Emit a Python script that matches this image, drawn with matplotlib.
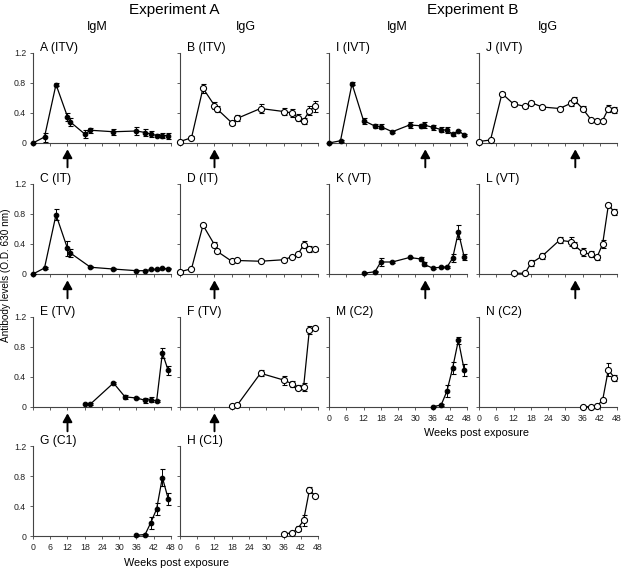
import numpy as np
import matplotlib
matplotlib.use("Agg")
import matplotlib.pyplot as plt

plt.rcParams['font.family'] = ['Liberation Sans', 'DejaVu Sans']

# sampling weeks
weeks_a = [0, 4, 8, 12, 13, 18, 20, 28, 36, 39, 41, 43, 45, 47]
weeks_b = [0, 4, 8, 12, 16, 18, 22, 28, 32, 33, 36, 39, 41, 43, 45, 47]

# Experiment A
a_x = weeks_a
a_y = [0.0, 0.08, 0.78, 0.35, 0.28, 0.12, 0.17, 0.15, 0.16, 0.14, 0.12, 0.10, 0.10, 0.10]
a_e = [0.0, 0.06, 0.02, 0.05, 0.05, 0.05, 0.03, 0.04, 0.05, 0.05, 0.04, 0.02, 0.03, 0.04]

b_x = weeks_a
b_y = [0.02, 0.07, 0.73, 0.50, 0.45, 0.27, 0.33, 0.46, 0.42, 0.40, 0.34, 0.30, 0.43, 0.49]
b_e = [0.01, 0.02, 0.06, 0.05, 0.04, 0.03, 0.04, 0.06, 0.05, 0.05, 0.05, 0.04, 0.06, 0.07]

c_x = [0, 4, 8, 12, 13, 20, 28, 36, 39, 41, 43, 45, 47]
c_y = [0.0, 0.08, 0.79, 0.34, 0.28, 0.09, 0.066, 0.044, 0.044, 0.06, 0.066, 0.075, 0.07]
c_e = [0.0, 0.01, 0.07, 0.10, 0.05, 0.01, 0.01, 0.01, 0.01, 0.01, 0.01, 0.01, 0.01]

d_x = weeks_a
d_y = [0.03, 0.07, 0.65, 0.39, 0.30, 0.17, 0.18, 0.17, 0.19, 0.23, 0.26, 0.39, 0.33, 0.33]
d_e = [0.01, 0.01, 0.02, 0.03, 0.01, 0.01, 0.01, 0.01, 0.01, 0.01, 0.01, 0.05, 0.04, 0.02]

e_x = [18, 20, 28, 32, 36, 39, 41, 43, 45, 47]
e_y = [0.045, 0.04, 0.32, 0.135, 0.12, 0.09, 0.10, 0.08, 0.72, 0.49]
e_e = [0.01, 0.01, 0.01, 0.03, 0.01, 0.03, 0.03, 0.01, 0.07, 0.06]

f_x = [18, 20, 28, 36, 39, 41, 43, 45, 47]
f_y = [0.013, 0.03, 0.45, 0.36, 0.31, 0.26, 0.27, 1.03, 1.05]
f_e = [0.01, 0.01, 0.04, 0.06, 0.04, 0.03, 0.05, 0.05, 0.01]

g_x = [36, 39, 41, 43, 45, 47]
g_y = [0.01, 0.02, 0.18, 0.36, 0.78, 0.50]
g_e = [0.01, 0.01, 0.08, 0.08, 0.11, 0.08]

h_x = [36, 39, 41, 43, 45, 47]
h_y = [0.03, 0.04, 0.10, 0.21, 0.61, 0.54]
h_e = [0.01, 0.01, 0.03, 0.07, 0.04, 0.01]

# Experiment B
i_x = weeks_b
i_y = [0.0, 0.03, 0.79, 0.30, 0.225, 0.22, 0.15, 0.24, 0.23, 0.24, 0.21, 0.18, 0.17, 0.12, 0.16, 0.11]
i_e = [0.0, 0.01, 0.02, 0.04, 0.03, 0.03, 0.01, 0.04, 0.03, 0.04, 0.03, 0.03, 0.04, 0.02, 0.01, 0.01]

j_x = weeks_b
j_y = [0.02, 0.04, 0.66, 0.52, 0.49, 0.54, 0.48, 0.46, 0.53, 0.58, 0.46, 0.31, 0.30, 0.30, 0.46, 0.44]
j_e = [0.0, 0.01, 0.02, 0.03, 0.02, 0.02, 0.02, 0.02, 0.04, 0.04, 0.03, 0.01, 0.01, 0.01, 0.05, 0.04]

k_x = [12, 16, 18, 22, 28, 32, 33, 36, 39, 41, 43, 45, 47]
k_y = [0.01, 0.03, 0.16, 0.16, 0.22, 0.20, 0.13, 0.08, 0.09, 0.09, 0.21, 0.56, 0.23]
k_e = [0.0, 0.01, 0.05, 0.01, 0.01, 0.03, 0.03, 0.01, 0.01, 0.01, 0.05, 0.09, 0.04]

l_x = [12, 16, 18, 22, 28, 32, 33, 36, 39, 41, 43, 45, 47]
l_y = [0.01, 0.01, 0.14, 0.24, 0.45, 0.43, 0.39, 0.29, 0.26, 0.22, 0.40, 0.92, 0.83]
l_e = [0.0, 0.0, 0.04, 0.04, 0.04, 0.06, 0.04, 0.05, 0.04, 0.03, 0.05, 0.03, 0.04]

m_x = [36, 39, 41, 43, 45, 47]
m_y = [0.004, 0.026, 0.21, 0.52, 0.89, 0.50]
m_e = [0.005, 0.01, 0.08, 0.08, 0.05, 0.08]

n_x = [36, 39, 41, 43, 45, 47]
n_y = [0.004, 0.004, 0.013, 0.09, 0.50, 0.39]
n_e = [0.0, 0.0, 0.01, 0.02, 0.09, 0.04]

# (label, x, y, err, filled, col, row, arrow week)
panels = [
    ('A (ITV)', a_x, a_y, a_e, True, 0, 0, 12),
    ('B (ITV)', b_x, b_y, b_e, False, 1, 0, 12),
    ('C (IT)', c_x, c_y, c_e, True, 0, 1, 12),
    ('D (IT)', d_x, d_y, d_e, False, 1, 1, 12),
    ('E (TV)', e_x, e_y, e_e, True, 0, 2, 12),
    ('F (TV)', f_x, f_y, f_e, False, 1, 2, 12),
    ('G (C1)', g_x, g_y, g_e, True, 0, 3, None),
    ('H (C1)', h_x, h_y, h_e, False, 1, 3, None),
    ('I (IVT)', i_x, i_y, i_e, True, 2, 0, 33.5),
    ('J (IVT)', j_x, j_y, j_e, False, 3, 0, 33.5),
    ('K (VT)', k_x, k_y, k_e, True, 2, 1, 33.5),
    ('L (VT)', l_x, l_y, l_e, False, 3, 1, 33.5),
    ('M (C2)', m_x, m_y, m_e, True, 2, 2, None),
    ('N (C2)', n_x, n_y, n_e, False, 3, 2, None),
]
bottom_panels = ['G (C1)', 'H (C1)', 'M (C2)', 'N (C2)']

W, H = 624, 570
fig = plt.figure(figsize=(W / 100, H / 100), dpi=100)

col_left = [33, 180, 329, 479]
row_zero = [143, 274, 407, 536]
ax_w, ax_h = 138, 90

for lab, x, y, err, filled, col, row, arrow in panels:
    ax = fig.add_axes([col_left[col] / W, 1 - row_zero[row] / H, ax_w / W, ax_h / H])
    ax.errorbar(x, y, yerr=err, color='k', lw=0.9, elinewidth=0.7, capsize=1.8, capthick=0.7,
                marker='o', ms=3.3 if filled else 4.4, mfc='k' if filled else 'white',
                mec='k', mew=0.8, clip_on=False, zorder=3)
    ax.set_xlim(0, 48)
    ax.set_ylim(0, 1.2)
    ax.set_xticks(np.arange(0, 49, 6))
    ax.set_yticks([0, 0.4, 0.8, 1.2])
    ax.set_yticklabels(['0', '0.4', '0.8', '1.2'] if col == 0 else [])
    if lab in bottom_panels:
        ax.set_xticklabels([str(v) for v in range(0, 49, 6)])
    else:
        ax.set_xticklabels([])
    for s in ['top', 'right']:
        ax.spines[s].set_visible(False)
    for s in ['left', 'bottom']:
        ax.spines[s].set_color('#444444')
        ax.spines[s].set_linewidth(0.8)
    ax.tick_params(length=2.5, width=0.6, color='#444444', labelsize=6.3, pad=2.5,
                   labelcolor='#222222')
    ax.patch.set_alpha(0)
    ax.text(0.05, 1.06, lab, transform=ax.transAxes, fontsize=8.7, va='center', ha='left')
    if arrow is not None:
        ax.annotate('', xy=(arrow, -0.07), xytext=(arrow, -0.27),
                    xycoords=('data', 'axes fraction'), textcoords=('data', 'axes fraction'),
                    arrowprops=dict(arrowstyle='-|>,head_width=0.28,head_length=0.5',
                                    lw=1.4, color='k', shrinkA=0, shrinkB=0),
                    annotation_clip=False)

# titles
fig.text(174 / W, 1 - 10 / H, 'Experiment A', fontsize=11, ha='center', va='center')
fig.text(473 / W, 1 - 10 / H, 'Experiment B', fontsize=11, ha='center', va='center')
for xc, t in [(97, 'IgM'), (246, 'IgG'), (397, 'IgM'), (548, 'IgG')]:
    fig.text(xc / W, 1 - 27 / H, t, fontsize=9, ha='center', va='center')

fig.text(176 / W, 1 - 563 / H, 'Weeks post exposure', fontsize=7.8, ha='center', va='center')
fig.text(476 / W, 1 - 433 / H, 'Weeks post exposure', fontsize=7.8, ha='center', va='center')
fig.text(6 / W, 1 - 275 / H, 'Antibody levels (O.D. 630 nm)', fontsize=7.2,
         rotation=90, ha='center', va='center')

fig.savefig('out.png', dpi=100)
